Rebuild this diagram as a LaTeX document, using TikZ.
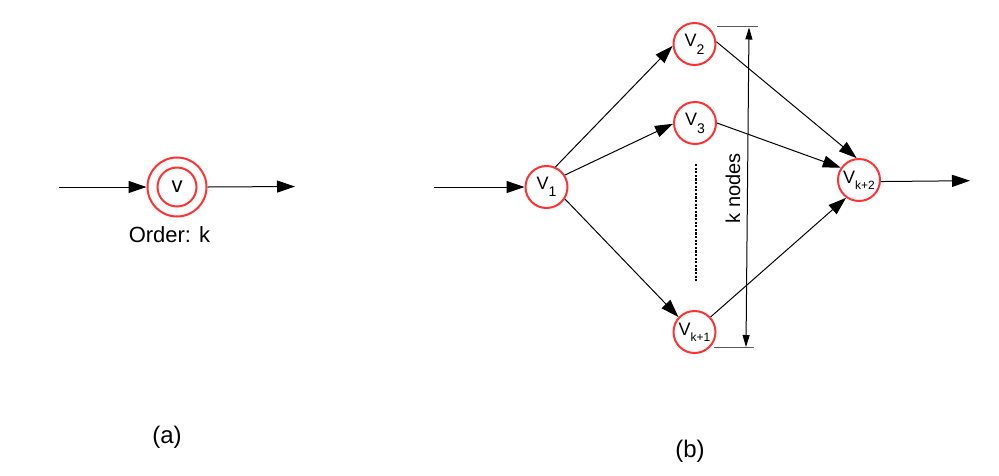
\documentclass[tikz,border=0pt]{standalone}
\usepackage{fontspec}
\setmainfont{Liberation Sans}
\usetikzlibrary{arrows.meta}
\definecolor{nodered}{RGB}{255,51,51}
\definecolor{tickgray}{RGB}{90,90,90}
\newcommand{\vlab}[3]{{\fontsize{18}{18}\selectfont V}\raisebox{-#3pt}{\fontsize{#1}{#1}\selectfont #2}}
\begin{document}
\begin{tikzpicture}[x=1pt,y=-1pt,
  vnode/.style={circle,draw=nodered,line width=2pt,minimum size=42pt,inner sep=0pt},
  edge/.style={draw=black,line width=1pt,-{Triangle[length=18pt,width=12pt]}},
  dimarr/.style={draw=black,line width=1pt,{Triangle[length=12pt,width=7pt]}-{Triangle[length=12pt,width=7pt]}},
  tickline/.style={draw=tickgray,line width=1.5pt},
  lbl/.style={font=\fontsize{22}{22}\selectfont,anchor=base,inner sep=0pt}]
\useasboundingbox (0,0) rectangle (999,475);

% ---------- (a) ----------
\node[circle,draw=nodered,line width=2pt,minimum size=59pt,inner sep=0pt] (vout) at (177,187) {};
\node[circle,draw=nodered,line width=2pt,minimum size=39pt,inner sep=0pt,font=\fontsize{22}{22}\selectfont] (v) at (177,187) {v};
\coordinate (ain) at (59,187);
\coordinate (aout) at (295,186.5);
\draw[edge] (ain) -- (vout.west);
\draw[edge] (vout.east) -- (aout);
\node[lbl] (order) at (169.5,242) {Order: k};
\node[lbl,font=\fontsize{24}{24}\selectfont] (la) at (167,443) {(a)};

% ---------- (b) ----------
\node[vnode] (v1) at (546.5,187) {\vlab{14}{1}{7}};
\node[vnode] (v2) at (694.5,44) {\vlab{14}{2}{8}};
\node[vnode] (v3) at (695,123) {\vlab{14}{3}{8}};
\node[vnode] (vk1) at (694.5,332) {\vlab{12}{k+1}{6}};
\node[vnode] (vk2) at (859,180) {\vlab{12}{k+2}{6}};

\coordinate (bin) at (434,187);
\coordinate (bout) at (970,180.7);
\draw[edge] (bin) -- (v1.west);
\draw[edge] (v1.66) -- (v2.185);
\draw[edge] (v1.33) -- (v3.182);
\draw[edge] (v1.-33) -- (vk1.137);
\draw[edge] (v2.6) -- (vk2.96);
\draw[edge] (v3.0) -- (vk2.146);
\draw[edge] (vk1.43) -- (vk2.234);
\draw[edge] (vk2.-4) -- (bout);

% dotted vertical line
\coordinate (dtopdots) at (696,164);
\coordinate (dbotdots) at (696,281);
\draw[draw=black,line width=1.3pt,dash pattern=on 2.2pt off 1.4pt] (dtopdots) -- (dbotdots);

% dimension
\coordinate (t1) at (717,26.7);
\coordinate (t2) at (758,26.7);
\coordinate (b1) at (714,347.7);
\coordinate (b2) at (754,347.7);
\coordinate (dtop) at (749,27.5);
\coordinate (dbot) at (746,347);
\draw[tickline] (t1) -- (t2);
\draw[tickline] (b1) -- (b2);
\draw[dimarr] (dtop) -- (dbot);
\node[lbl,font=\fontsize{20}{20}\selectfont,rotate=90] (knodes) at (740,188) {k nodes};

\node[lbl,font=\fontsize{24}{24}\selectfont] (lb) at (690,457) {(b)};
\end{tikzpicture}
\end{document}
